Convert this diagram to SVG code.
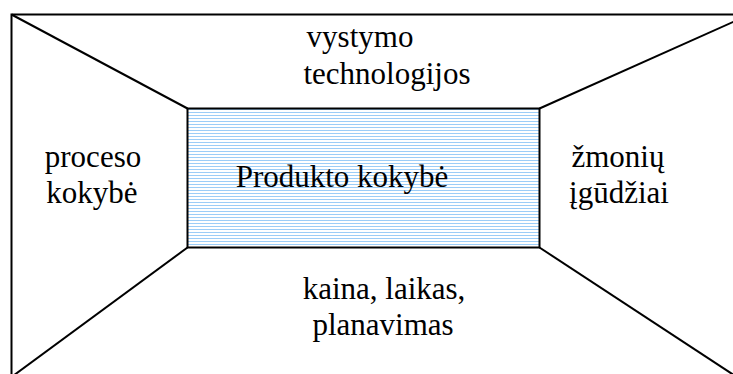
<svg xmlns="http://www.w3.org/2000/svg" width="733" height="374" viewBox="0 0 733 374">
  <defs>
    <pattern id="hatch" patternUnits="userSpaceOnUse" x="0" y="0" width="6" height="3">
      <rect width="6" height="3" fill="#ffffff"/>
      <rect y="1" width="6" height="1" fill="#9ccdf7"/>
    </pattern>
  </defs>
  <style>
    .edge { stroke: #000; stroke-width: 2; fill: none; }
    .lbl { font-family: "Liberation Serif", "Times New Roman", serif; font-size: 31px; fill: #000; text-anchor: middle; }
  </style>

  <rect width="733" height="374" fill="#ffffff"/>

  <!-- outer frame and the four perspective edges -->
  <g id="connectors">
    <rect class="edge" x="11.5" y="14.5" width="740" height="366"/>
    <line class="edge" x1="11.5" y1="14.5" x2="187.5" y2="108.5"/>
    <line class="edge" x1="539.5" y1="108.5" x2="752" y2="13.5"/>
    <line class="edge" x1="187.5" y1="247.5" x2="11.5" y2="377"/>
    <line class="edge" x1="539.5" y1="247.5" x2="752" y2="387"/>
  </g>

  <g id="produkto-kokybe">
    <rect x="187.5" y="108.5" width="352" height="139" fill="url(#hatch)" stroke="#000" stroke-width="2"/>
    <text class="lbl" x="342" y="187">Produkto kokybė</text>
  </g>

  <g id="vystymo-technologijos">
    <text class="lbl" x="360" y="47">vystymo</text>
    <text class="lbl" x="387" y="84">technologijos</text>
  </g>

  <g id="proceso-kokybe">
    <text class="lbl" x="93" y="167">proceso</text>
    <text class="lbl" x="92" y="203">kokybė</text>
  </g>

  <g id="zmoniu-igudziai">
    <text class="lbl" x="618" y="167">žmonių</text>
    <text class="lbl" x="619" y="203">įgūdžiai</text>
  </g>

  <g id="kaina-laikas-planavimas">
    <text class="lbl" x="384" y="299">kaina, laikas,</text>
    <text class="lbl" x="383" y="335">planavimas</text>
  </g>
</svg>
